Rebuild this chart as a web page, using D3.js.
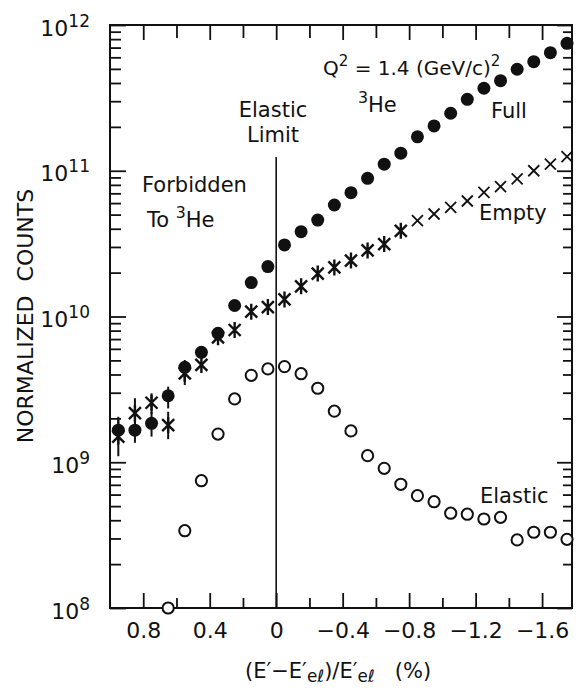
<!DOCTYPE html>
<html>
<head>
<meta charset="utf-8">
<script src="https://cdn.jsdelivr.net/npm/d3@7"></script>
<style>
  html, body { margin: 0; padding: 0; background: #fff; }
  svg { display: block; }
  text { font-family: "DejaVu Sans", sans-serif; fill: #111; }
</style>
</head>
<body>
<svg id="chart" width="577" height="690"></svg>
<script>
// Relative energy offset (E' - E'el)/E'el in percent, one entry per bin
const binX = [0.95, 0.85, 0.75, 0.65, 0.55, 0.45, 0.35, 0.25, 0.15, 0.05,
              -0.05, -0.15, -0.25, -0.35, -0.45, -0.55, -0.65, -0.75, -0.85, -0.95,
              -1.05, -1.15, -1.25, -1.35, -1.45, -1.55, -1.65, -1.75];

// Full target counts
const fullCounts = [1.66e9, 1.66e9, 1.85e9, 2.86e9, 4.48e9, 5.68e9, 7.67e9, 1.19e10, 1.71e10, 2.20e10,
                    3.10e10, 3.82e10, 4.59e10, 5.82e10, 7.07e10, 8.87e10, 1.11e11, 1.32e11, 1.71e11, 2.03e11,
                    2.48e11, 3.09e11, 3.68e11, 4.15e11, 4.97e11, 5.60e11, 6.46e11, 7.49e11];

// Empty target counts
const emptyCounts = [1.50e9, 2.17e9, 2.56e9, 1.80e9, 4.07e9, 4.65e9, 7.2e9, 8.08e9, 1.08e10, 1.16e10,
                     1.31e10, 1.61e10, 1.97e10, 2.17e10, 2.42e10, 2.84e10, 3.14e10, 3.87e10, 4.55e10, 5.05e10,
                     5.61e10, 6.20e10, 7.11e10, 7.78e10, 8.78e10, 1.0e11, 1.11e11, 1.25e11];

// Error bar limits [low, high] for the first bins
const fullErr  = [[1.40e9, 2.05e9], [1.36e9, 1.95e9], [1.50e9, 2.22e9], [2.34e9, 3.30e9], [3.56e9, 5.03e9]];
const emptyErr = [[1.10e9, 1.95e9], [1.80e9, 2.75e9], [2.14e9, 2.97e9], [1.44e9, 2.22e9], [3.39e9, 4.87e9]];

// Elastic (full minus empty) counts
const elasticX = [0.65, 0.55, 0.45, 0.35, 0.25, 0.15, 0.05, -0.05, -0.15, -0.25,
                  -0.35, -0.45, -0.55, -0.65, -0.75, -0.85, -0.95, -1.05, -1.15, -1.25,
                  -1.35, -1.45, -1.55, -1.65, -1.75];
const elasticCounts = [1.0e8, 3.39e8, 7.47e8, 1.56e9, 2.72e9, 3.95e9, 4.37e9, 4.53e9, 4.05e9, 3.22e9,
                       2.24e9, 1.64e9, 1.11e9, 9.08e8, 7.06e8, 5.90e8, 5.36e8, 4.47e8, 4.40e8, 4.08e8,
                       4.19e8, 2.93e8, 3.31e8, 3.31e8, 2.96e8];

// Axis ticks
const xMajorTicks = [0.8, 0.4, 0, -0.4, -0.8, -1.2, -1.6];
const xMinorTicks = [0.6, 0.2, -0.2, -0.6, -1.0, -1.4];
const yDecades = [1e8, 1e9, 1e10, 1e11, 1e12];
const yMinor = [2, 3, 4, 5, 6, 7, 8, 9];

const svg = d3.select("#chart");
const W = 577, H = 690;
const m = { left: 110, top: 25, right: 5, bottom: 82 };
const x0 = m.left, x1 = W - m.right, y0 = m.top, y1 = H - m.bottom;

svg.append("rect").attr("width", W).attr("height", H).attr("fill", "#fff");

const x = d3.scaleLinear().domain([1.0, -1.78]).range([x0, x1]);
const y = d3.scaleLog().domain([1e8, 1e12]).range([y1, y0]);

const minorVals = [];
yDecades.slice(0, -1).forEach(d => yMinor.forEach(k => minorVals.push(d * k)));

const fmtX = d => d === 0 ? "0" : (d < 0 ? "\u2212" : "") + Math.abs(d).toFixed(1);

function styleAxis(g) {
  g.select(".domain").remove();
  g.selectAll(".tick line").attr("stroke", "#111").attr("stroke-width", 1.8);
}

// bottom axis
svg.append("g").attr("transform", `translate(0,${y1})`)
  .call(d3.axisBottom(x).tickValues(xMajorTicks).tickFormat(fmtX).tickSize(-15).tickPadding(14))
  .call(styleAxis)
  .call(g => g.selectAll("text").attr("font-size", 22).attr("font-family", "DejaVu Sans").attr("fill", "#111"));
svg.append("g").attr("transform", `translate(0,${y1})`)
  .call(d3.axisBottom(x).tickValues(xMinorTicks).tickFormat("").tickSize(-10))
  .call(styleAxis);

// top axis
svg.append("g").attr("transform", `translate(0,${y0})`)
  .call(d3.axisTop(x).tickValues(xMajorTicks).tickFormat("").tickSize(-15))
  .call(styleAxis);
svg.append("g").attr("transform", `translate(0,${y0})`)
  .call(d3.axisTop(x).tickValues(xMinorTicks).tickFormat("").tickSize(-13))
  .call(styleAxis);

// left axis with power-of-ten labels
const yExp = d => Math.round(Math.log10(d));
svg.append("g").attr("transform", `translate(${x0},0)`)
  .call(d3.axisLeft(y).tickValues(yDecades).tickFormat("").tickSize(-16).tickPadding(20))
  .call(styleAxis)
  .call(g => g.selectAll(".tick").each(function(d) {
    const t = d3.select(this).append("text")
      .attr("x", -20).attr("y", 10).attr("text-anchor", "end").attr("font-size", 22);
    t.append("tspan").text("10");
    t.append("tspan").attr("font-size", 17).attr("dy", -9).text(yExp(d));
  }));
svg.append("g").attr("transform", `translate(${x0},0)`)
  .call(d3.axisLeft(y).tickValues(minorVals).tickFormat("").tickSize(-11))
  .call(styleAxis);

// right axis
svg.append("g").attr("transform", `translate(${x1},0)`)
  .call(d3.axisRight(y).tickValues(yDecades).tickFormat("").tickSize(-15))
  .call(styleAxis);
svg.append("g").attr("transform", `translate(${x1},0)`)
  .call(d3.axisRight(y).tickValues(minorVals).tickFormat("").tickSize(-9))
  .call(styleAxis);

// frame
svg.append("rect").attr("x", x0).attr("y", y0).attr("width", x1 - x0).attr("height", y1 - y0)
  .attr("fill", "none").attr("stroke", "#111").attr("stroke-width", 2);

// elastic limit line
svg.append("line").attr("x1", x(0)).attr("x2", x(0)).attr("y1", 157).attr("y2", y1)
  .attr("stroke", "#111").attr("stroke-width", 1.6);

const plot = svg.append("g");

// error bars
const errG = plot.append("g").attr("stroke", "#111").attr("stroke-width", 2);
fullErr.forEach((e, i) => errG.append("line")
  .attr("x1", x(binX[i])).attr("x2", x(binX[i])).attr("y1", y(e[0])).attr("y2", y(e[1])));
emptyErr.forEach((e, i) => errG.append("line")
  .attr("x1", x(binX[i])).attr("x2", x(binX[i])).attr("y1", y(e[0])).attr("y2", y(e[1])));

// empty target: asterisks below the elastic region, plain crosses further out
const emptyG = plot.append("g").attr("stroke", "#111").attr("fill", "none");
emptyCounts.forEach((v, i) => {
  const cx = x(binX[i]), cy = y(v);
  const star = binX[i] > -0.8;
  const a = star ? 6 : 5.5;
  const p = `M${cx - a},${cy - a}L${cx + a},${cy + a}M${cx - a},${cy + a}L${cx + a},${cy - a}` +
            (star ? `M${cx},${cy - 8}L${cx},${cy + 8}` : "");
  emptyG.append("path").attr("d", p).attr("stroke-width", star ? 2.4 : 1.8);
});

// full target: filled circles
plot.append("g").selectAll("circle").data(fullCounts).join("circle")
  .attr("cx", (d, i) => x(binX[i])).attr("cy", d => y(d)).attr("r", 6.5).attr("fill", "#111");

// elastic: open circles
plot.append("g").selectAll("circle").data(elasticCounts).join("circle")
  .attr("cx", (d, i) => x(elasticX[i])).attr("cy", d => y(d)).attr("r", 5.6)
  .attr("fill", "#fff").attr("stroke", "#111").attr("stroke-width", 2);

// annotations
function label(tx, ty, parts, size, anchor) {
  const t = svg.append("text").attr("x", tx).attr("y", ty).attr("font-size", size)
    .attr("text-anchor", anchor || "start");
  parts.forEach(p => {
    const s = t.append("tspan").text(p.t);
    if (p.sup) s.attr("font-size", size * 0.75).attr("dy", -9);
    if (p.sub) s.attr("font-size", size * 0.8).attr("dy", 4);
    if (p.back) s.attr("dy", p.back);
  });
  return t;
}

label(273, 117, [{ t: "Elastic" }], 21, "middle");
label(273, 142, [{ t: "Limit" }], 21, "middle");
label(142, 192, [{ t: "Forbidden" }], 21);
label(147, 227, [{ t: "To " }, { t: "3", sup: true }, { t: "He", back: 9 }], 21);
label(323, 75, [{ t: "Q" }, { t: "2", sup: true }, { t: " = 1.4 (GeV/c)", back: 9 }, { t: "2", sup: true }], 20);
label(358, 112, [{ t: "3", sup: true }, { t: "He", back: 9 }], 21);
label(491, 118, [{ t: "Full" }], 21);
label(479, 220, [{ t: "Empty" }], 21);
label(480, 503, [{ t: "Elastic" }], 21);

// axis titles
svg.append("text").attr("transform", "translate(33,316) rotate(-90)")
  .attr("text-anchor", "middle").attr("font-size", 22).style("white-space", "pre")
  .text("NORMALIZED  COUNTS");

label(245, 678, [
  { t: "(E\u2032\u2212E\u2032" }, { t: "e\u2113", sub: true }, { t: ")/E\u2032", back: -4 },
  { t: "e\u2113", sub: true }, { t: "   (%)", back: -4 }
], 21).style("white-space", "pre");
</script>
</body>
</html>
